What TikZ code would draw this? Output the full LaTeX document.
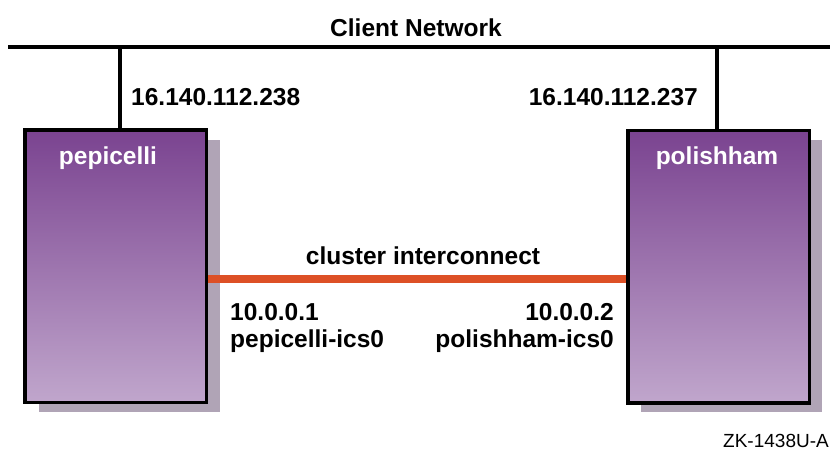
\documentclass[tikz,border=0pt]{standalone}
\usepackage{fontspec}
\setmainfont{Liberation Sans}
\begin{document}
\begin{tikzpicture}[x=1pt,y=-1pt,
  hostbox/.style={draw=black,line width=3.5pt,rectangle,minimum width=181.5pt,minimum height=272.5pt,
    top color=boxtop,bottom color=boxbot,inner sep=0pt},
  shadowbox/.style={fill=shadowc,draw=none},
  wire/.style={line width=4pt,draw=black},
  ic/.style={line width=8pt,draw=icred},
  lbl/.style={font=\fontsize{24.5}{29}\selectfont\bfseries,inner sep=0pt},
  hostlbl/.style={lbl,text=white},
  tag/.style={font=\fontsize{19}{22}\selectfont,inner sep=0pt}]
\definecolor{boxtop}{HTML}{7A4390}
\definecolor{boxbot}{HTML}{C0A6CC}
\definecolor{shadowc}{HTML}{B0A4B6}
\definecolor{icred}{HTML}{DD5026}
\useasboundingbox (0,0) rectangle (830,452);
% shadows
\fill[shadowc] (39,140) rectangle (220,412);
\fill[shadowc] (641,140) rectangle (822,412);
% boxes
\node[hostbox] (pep) at (115.5,266) {};
\node[hostbox] (pol) at (718.5,266.5) {};
\node[hostlbl,anchor=base] (pepl) at (108,164) {pepicelli};
\node[hostlbl,anchor=base] (poll) at (717,164) {polishham};
% client network
\coordinate (netL) at (8,47);
\coordinate (netR) at (830,47);
\draw[wire] (netL) -- (netR);
\coordinate (tapL) at (120,47);
\coordinate (tapR) at (717,47);
\draw[wire] (tapL) -- (tapL |- pep.north);
\draw[wire] (tapR) -- (tapR |- pol.north);
\node[lbl,anchor=base] (cn) at (416,36.5) {Client Network};
\node[lbl,anchor=base west] (ipL) at (131,105) {16.140.112.238};
\node[lbl,anchor=base east] (ipR) at (698,105) {16.140.112.237};
% cluster interconnect
\coordinate (ciy) at (0,279);
\draw[ic] (pep.east |- ciy) -- (pol.west |- ciy);
\node[lbl,anchor=base] (cil) at (423,264) {cluster interconnect};
\node[lbl,anchor=base west] (a1) at (230,320) {10.0.0.1};
\node[lbl,anchor=base west] (a2) at (230,347) {pepicelli-ics0};
\node[lbl,anchor=base east] (b1) at (614,320) {10.0.0.2};
\node[lbl,anchor=base east] (b2) at (614,347) {polishham-ics0};
\node[tag,anchor=base east] (zk) at (829,447) {ZK-1438U-A};
\end{tikzpicture}
\end{document}
